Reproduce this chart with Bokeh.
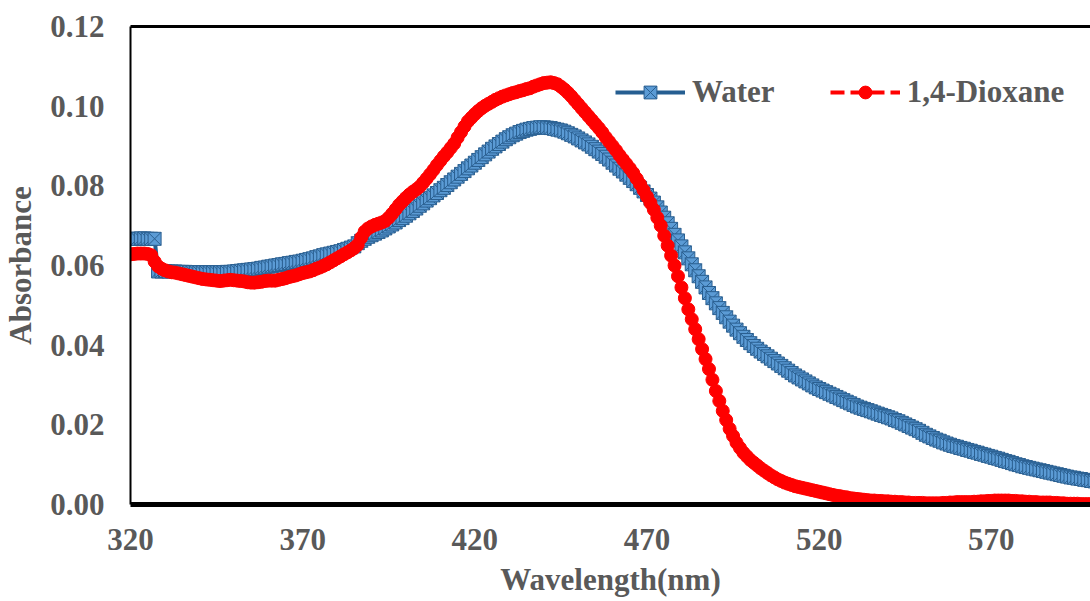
from bokeh.plotting import figure
from bokeh.models import (Range1d, FixedTicker, PrintfTickFormatter, LinearAxis,
                          Legend, LegendItem)
from bokeh.embed import file_html
from bokeh.resources import INLINE

# ---------------- data ----------------
wavelength = list(range(320, 601))  # nm, 1 nm sampling

water = [
    0.0667, 0.0667, 0.0667, 0.0668, 0.0668, 0.0667, 0.0667, 0.0667, 0.0585, 0.0585,
    0.0586, 0.0585, 0.0585, 0.0585, 0.0584, 0.0584, 0.0584, 0.0583, 0.0583, 0.0583,
    0.0583, 0.0583, 0.0583, 0.0583, 0.0583, 0.0583, 0.0583, 0.0583, 0.0584, 0.0584,
    0.0585, 0.0586, 0.0587, 0.0588, 0.0589, 0.0590, 0.0591, 0.0592, 0.0594, 0.0595,
    0.0597, 0.0598, 0.0600, 0.0601, 0.0603, 0.0604, 0.0606, 0.0607, 0.0609, 0.0610,
    0.0612, 0.0614, 0.0616, 0.0618, 0.0621, 0.0623, 0.0626, 0.0628, 0.0630, 0.0632,
    0.0634, 0.0636, 0.0639, 0.0642, 0.0645, 0.0648, 0.0656, 0.0662, 0.0667, 0.0672,
    0.0676, 0.0680, 0.0684, 0.0688, 0.0693, 0.0698, 0.0703, 0.0708, 0.0714, 0.0719,
    0.0725, 0.0731, 0.0737, 0.0743, 0.0750, 0.0756, 0.0763, 0.0769, 0.0776, 0.0782,
    0.0789, 0.0795, 0.0802, 0.0809, 0.0816, 0.0823, 0.0830, 0.0837, 0.0844, 0.0851,
    0.0858, 0.0865, 0.0872, 0.0879, 0.0886, 0.0893, 0.0899, 0.0905, 0.0911, 0.0917,
    0.0922, 0.0927, 0.0931, 0.0935, 0.0938, 0.0941, 0.0943, 0.0945, 0.0946, 0.0947,
    0.0947, 0.0946, 0.0945, 0.0943, 0.0941, 0.0939, 0.0936, 0.0932, 0.0928, 0.0924,
    0.0919, 0.0914, 0.0909, 0.0904, 0.0898, 0.0892, 0.0886, 0.0880, 0.0873, 0.0866,
    0.0858, 0.0851, 0.0843, 0.0836, 0.0828, 0.0820, 0.0812, 0.0804, 0.0795, 0.0786,
    0.0777, 0.0768, 0.0758, 0.0746, 0.0733, 0.0720, 0.0706, 0.0692, 0.0677, 0.0663,
    0.0648, 0.0633, 0.0618, 0.0603, 0.0588, 0.0573, 0.0559, 0.0545, 0.0531, 0.0518,
    0.0505, 0.0493, 0.0481, 0.0470, 0.0459, 0.0449, 0.0439, 0.0430, 0.0421, 0.0413,
    0.0405, 0.0398, 0.0391, 0.0384, 0.0378, 0.0372, 0.0366, 0.0360, 0.0354, 0.0348,
    0.0342, 0.0336, 0.0330, 0.0324, 0.0319, 0.0314, 0.0309, 0.0304, 0.0299, 0.0294,
    0.0290, 0.0286, 0.0282, 0.0278, 0.0274, 0.0270, 0.0266, 0.0262, 0.0258, 0.0254,
    0.0250, 0.0246, 0.0243, 0.0240, 0.0237, 0.0234, 0.0231, 0.0228, 0.0225, 0.0222,
    0.0219, 0.0216, 0.0212, 0.0209, 0.0205, 0.0201, 0.0197, 0.0193, 0.0189, 0.0185,
    0.0180, 0.0175, 0.0171, 0.0167, 0.0163, 0.0160, 0.0156, 0.0153, 0.0150, 0.0147,
    0.0145, 0.0142, 0.0140, 0.0137, 0.0135, 0.0132, 0.0130, 0.0127, 0.0125, 0.0122,
    0.0120, 0.0117, 0.0115, 0.0112, 0.0109, 0.0107, 0.0104, 0.0101, 0.0099, 0.0096,
    0.0094, 0.0092, 0.0090, 0.0088, 0.0086, 0.0084, 0.0082, 0.0080, 0.0078, 0.0076,
    0.0074, 0.0072, 0.0070, 0.0068, 0.0067, 0.0065, 0.0064, 0.0062, 0.0061, 0.0059,
    0.0058,
]

dioxane = [
    0.0628, 0.0629, 0.0630, 0.0630, 0.0630, 0.0629, 0.0626, 0.0610, 0.0598, 0.0592,
    0.0588, 0.0585, 0.0583, 0.0582, 0.0580, 0.0578, 0.0576, 0.0574, 0.0572, 0.0570,
    0.0568, 0.0566, 0.0565, 0.0564, 0.0563, 0.0562, 0.0561, 0.0562, 0.0563, 0.0564,
    0.0563, 0.0562, 0.0561, 0.0560, 0.0558, 0.0557, 0.0557, 0.0558, 0.0559, 0.0561,
    0.0562, 0.0562, 0.0562, 0.0564, 0.0566, 0.0568, 0.0571, 0.0573, 0.0575, 0.0578,
    0.0581, 0.0583, 0.0585, 0.0588, 0.0592, 0.0595, 0.0599, 0.0603, 0.0608, 0.0613,
    0.0618, 0.0623, 0.0628, 0.0633, 0.0638, 0.0644, 0.0652, 0.0670, 0.0685, 0.0693,
    0.0698, 0.0702, 0.0705, 0.0708, 0.0712, 0.0720, 0.0730, 0.0741, 0.0752, 0.0761,
    0.0770, 0.0778, 0.0785, 0.0791, 0.0798, 0.0808, 0.0818, 0.0829, 0.0840, 0.0852,
    0.0863, 0.0874, 0.0884, 0.0895, 0.0906, 0.0921, 0.0935, 0.0949, 0.0962, 0.0971,
    0.0980, 0.0988, 0.0995, 0.1001, 0.1006, 0.1011, 0.1016, 0.1020, 0.1024, 0.1027,
    0.1030, 0.1033, 0.1035, 0.1038, 0.1040, 0.1043, 0.1045, 0.1049, 0.1052, 0.1055,
    0.1058, 0.1059, 0.1060, 0.1058, 0.1055, 0.1049, 0.1042, 0.1034, 0.1025, 0.1015,
    0.1005, 0.0995, 0.0985, 0.0975, 0.0965, 0.0955, 0.0945, 0.0934, 0.0922, 0.0911,
    0.0900, 0.0889, 0.0877, 0.0866, 0.0855, 0.0844, 0.0832, 0.0818, 0.0804, 0.0789,
    0.0773, 0.0757, 0.0740, 0.0720, 0.0700, 0.0675, 0.0650, 0.0625, 0.0600, 0.0573,
    0.0545, 0.0518, 0.0490, 0.0465, 0.0440, 0.0415, 0.0390, 0.0365, 0.0340, 0.0313,
    0.0285, 0.0260, 0.0235, 0.0212, 0.0190, 0.0172, 0.0155, 0.0142, 0.0130, 0.0121,
    0.0112, 0.0105, 0.0098, 0.0091, 0.0085, 0.0079, 0.0073, 0.0068, 0.0063, 0.0059,
    0.0055, 0.0052, 0.0049, 0.0046, 0.0044, 0.0042, 0.0040, 0.0038, 0.0036, 0.0034,
    0.0032, 0.0030, 0.0028, 0.0026, 0.0024, 0.0022, 0.0021, 0.0019, 0.0018, 0.0016,
    0.0015, 0.0014, 0.0013, 0.0012, 0.0011, 0.0010, 0.0010, 0.0009, 0.0009, 0.0008,
    0.0008, 0.0007, 0.0007, 0.0006, 0.0006, 0.0005, 0.0005, 0.0004, 0.0004, 0.0004,
    0.0004, 0.0003, 0.0003, 0.0003, 0.0003, 0.0003, 0.0004, 0.0004, 0.0005, 0.0005,
    0.0006, 0.0006, 0.0006, 0.0006, 0.0006, 0.0007, 0.0007, 0.0008, 0.0008, 0.0009,
    0.0009, 0.0010, 0.0010, 0.0010, 0.0010, 0.0010, 0.0009, 0.0009, 0.0008, 0.0008,
    0.0007, 0.0007, 0.0006, 0.0006, 0.0005, 0.0005, 0.0005, 0.0005, 0.0004, 0.0004,
    0.0003, 0.0003, 0.0002, 0.0002, 0.0002, 0.0002, 0.0001, 0.0001, 0.0001, 0.0001,
    0.0000,
]

x_ticks = [320, 370, 420, 470, 520, 570]
y_ticks = [0.00, 0.02, 0.04, 0.06, 0.08, 0.10, 0.12]
series_names = ["Water", "1,4-Dioxane"]
x_title = "Wavelength(nm)"
y_title = "Absorbance"

# ---------------- styling ----------------
FONT = "Liberation Serif"
TXT = "#595959"
FS = "31px"

p = figure(width=1090, height=601,
           x_range=Range1d(320, 598.8), y_range=Range1d(0, 0.12),
           output_backend="svg", toolbar_location=None,
           min_border_left=128, min_border_right=0,
           min_border_top=26, min_border_bottom=97)
p.background_fill_color = "white"
p.border_fill_color = "white"
p.outline_line_color = None
p.xgrid.grid_line_color = None
p.ygrid.grid_line_color = None

xa = p.below[0]
ya = p.left[0]
for ax in (xa, ya):
    ax.major_tick_line_color = None
    ax.minor_tick_line_color = None
    ax.major_tick_out = 0
    ax.major_tick_in = 0
    ax.minor_tick_out = 0
    ax.minor_tick_in = 0
    ax.axis_line_color = "black"
    ax.major_label_text_font = FONT
    ax.major_label_text_font_style = "bold"
    ax.major_label_text_font_size = FS
    ax.major_label_text_color = TXT
    ax.axis_label_text_font = FONT
    ax.axis_label_text_font_style = "bold"
    ax.axis_label_text_font_size = FS
    ax.axis_label_text_color = TXT

xa.ticker = FixedTicker(ticks=x_ticks)
xa.axis_label = x_title
xa.axis_line_width = 5
xa.major_label_standoff = 24
xa.axis_label_standoff = 9

ya.ticker = FixedTicker(ticks=y_ticks)
ya.formatter = PrintfTickFormatter(format="%.2f")
ya.axis_label = y_title
ya.axis_line_width = 2
ya.major_label_standoff = 26
ya.axis_label_standoff = 9

top_ax = LinearAxis(ticker=FixedTicker(ticks=[]), axis_line_width=3,
                    axis_line_color="black", major_tick_line_color=None,
                    minor_tick_line_color=None, major_tick_out=0, minor_tick_out=0,
                    major_label_text_font_size="0px")
p.add_layout(top_ax, "above")

# ---------------- series ----------------
wl = p.line(wavelength, water, line_color="#255E91", line_width=4)
ws = p.scatter(wavelength, water, marker="square_x", size=13,
               fill_color="#5B9BD5", line_color="#2A5F90", line_width=1)

dl = p.line(wavelength, dioxane, line_color="#FF0000", line_width=4, line_dash="14 6")
ds = p.scatter(wavelength, dioxane, marker="circle", size=13,
               fill_color="#FF0000", line_color="#FF0000")

legend = Legend(items=[LegendItem(label=series_names[0], renderers=[wl, ws]),
                       LegendItem(label=series_names[1], renderers=[dl, ds])],
                orientation="horizontal", location=(485, 394),
                glyph_width=70, glyph_height=32, label_standoff=7, spacing=55,
                padding=0, margin=0, border_line_color=None,
                background_fill_alpha=0,
                label_text_font=FONT, label_text_font_style="bold",
                label_text_font_size=FS, label_text_color=TXT)
p.add_layout(legend, "center")

open("out.html", "w").write(file_html(p, INLINE))
